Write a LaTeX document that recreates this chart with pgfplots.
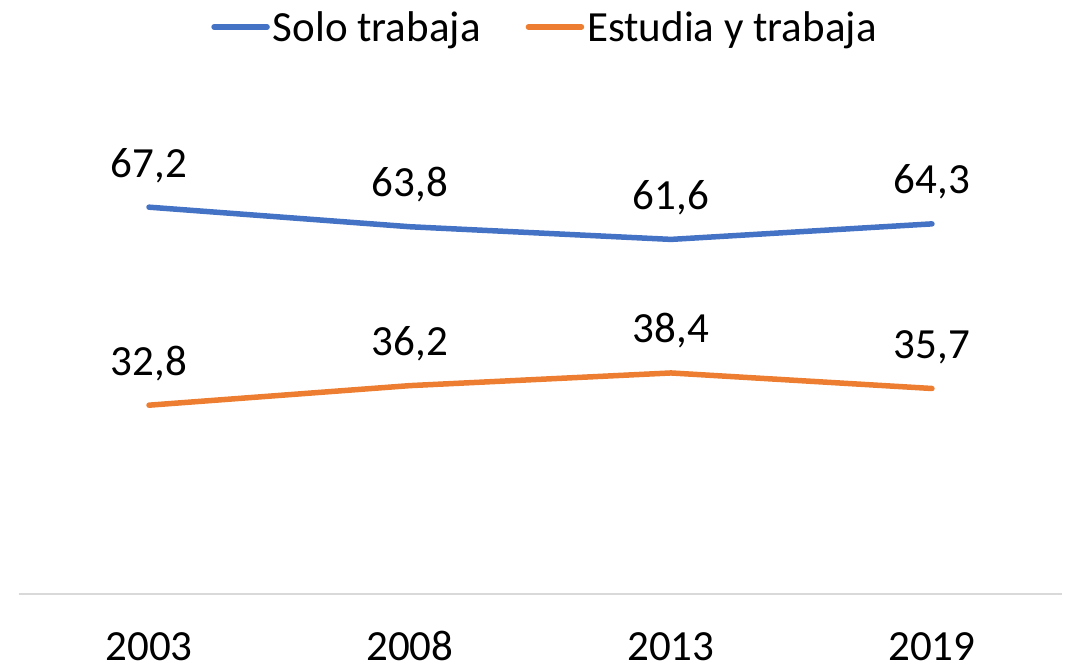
\documentclass[border=0pt]{standalone}
\usepackage{pgfplots}
\pgfplotsset{compat=1.18}
\usepackage{fontspec}
\setmainfont{Carlito}
\definecolor{cblue}{HTML}{4472C4}
\definecolor{corange}{HTML}{ED7D31}
\definecolor{cgrid}{HTML}{D9D9D9}
\begin{document}
\begin{tikzpicture}[font=\fontsize{43}{50}\selectfont]
\path[use as bounding box] (0,0) rectangle (1074pt,668pt);
\begin{axis}[
  at={(18.5pt,74pt)}, anchor=south west,
  scale only axis, width=1044pt, height=460.5pt,
  xmin=-0.5, xmax=3.5, ymin=0, ymax=80,
  clip=false,
  axis y line=none,
  axis x line*=bottom,
  x axis line style={cgrid, line width=1.5pt, -},
  xtick={0,1,2,3},
  xticklabels={2003,2008,2013,2019},
  major tick length=0pt,
  xticklabel style={anchor=base, yshift=-67pt, text=black},
  /pgf/number format/.cd, use comma, fixed, fixed zerofill, precision=1, assume math mode=true,
  /pgfplots/.cd,
  nodes near coords,
  every node near coord/.append style={anchor=base, yshift=30pt, text=black, font=\fontsize{43}{50}\selectfont},
  legend style={draw=none, fill=none, at={(0.5048,1.2313)}, anchor=center,
    legend columns=2, font=\fontsize{43}{50}\selectfont,
    nodes={inner xsep=3pt, text=black},
    /tikz/every even column/.append style={column sep=42pt}},
  legend image code/.code={\draw[#1, line width=5.5pt, line cap=round] (0pt,0pt) -- (53pt,0pt);},
]
\addplot[cblue, line width=5.5pt, line cap=round, line join=round] coordinates {(0,67.2) (1,63.8) (2,61.6) (3,64.3)};
\addlegendentry{Solo trabaja}
\addplot[corange, line width=5.5pt, line cap=round, line join=round] coordinates {(0,32.8) (1,36.2) (2,38.4) (3,35.7)};
\addlegendentry{Estudia y trabaja}
\end{axis}
\end{tikzpicture}
\end{document}
